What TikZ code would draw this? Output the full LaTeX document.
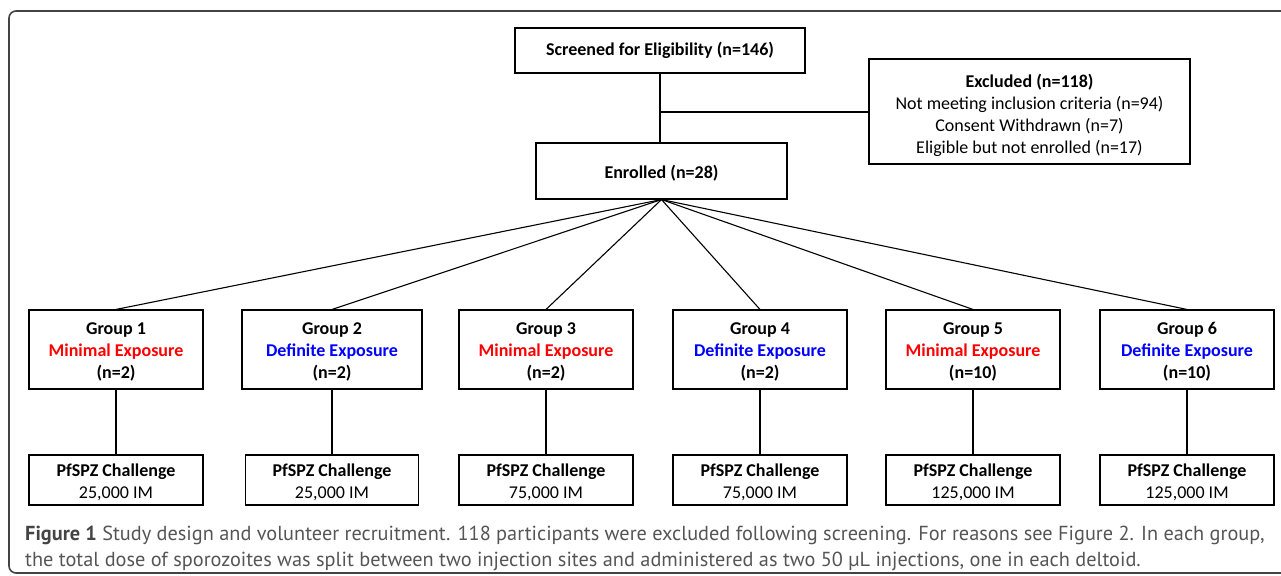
\documentclass[tikz,border=0pt]{standalone}
\usepackage{fontspec}
\setmainfont{Carlito}
\newfontfamily\capfont{PT Sans}
\definecolor{capgrey}{HTML}{555555}
\definecolor{framegrey}{HTML}{444444}
\definecolor{minred}{HTML}{FF0000}
\definecolor{defblue}{HTML}{0000FF}
\newcommand\tstrut[1]{\rule{0pt}{#1}}
\begin{document}
\begin{tikzpicture}[x=1pt,y=-1pt,
  box/.style={draw, line width=1.1pt, inner sep=0pt, align=center,
    font=\fontsize{18}{22}\selectfont},
  conn/.style={line width=1.1pt},
  captext/.style={anchor=base west, inner sep=0pt, text=capgrey,
    font=\capfont\fontsize{20.3}{24}\selectfont}]
\useasboundingbox (0,0) rectangle (1281,575);
\clip (0,0) rectangle (1281,575);
\draw[framegrey, line width=1.6pt, rounded corners=7pt] (9,11) rectangle (1310,573);

\node[box, minimum width=290pt, minimum height=45pt] (scr) at (660,50.5) {\bfseries Screened for Eligibility (n=146)};
\node[box, minimum width=321pt, minimum height=105pt] (exc) at (1029.5,111.5)
  {\tstrut{21.3pt}\bfseries Excluded (n=118)\\Not meeting inclusion criteria (n=94)\\Consent Withdrawn (n=7)\\Eligible but not enrolled (n=17)};
\node[box, minimum width=251pt, minimum height=56pt] (enr) at (661.5,171) {\tstrut{17.3pt}\bfseries Enrolled (n=28)};

\tikzset{grp/.style={box, minimum width=174pt, minimum height=79pt, font=\fontsize{18}{22}\selectfont\bfseries},
  chl/.style={box, minimum width=174pt, minimum height=50pt}}
\node[grp] (g1) at (116,349.5) {\tstrut{17.7pt}Group 1\\\textcolor{minred}{Minimal Exposure}\\(n=2)};
\node[grp, minimum width=180pt] (g2) at (332,349.5) {\tstrut{17.7pt}Group 2\\\textcolor{defblue}{Definite Exposure}\\(n=2)};
\node[grp] (g3) at (546,349.5) {\tstrut{17.7pt}Group 3\\\textcolor{minred}{Minimal Exposure}\\(n=2)};
\node[grp] (g4) at (760,349.5) {\tstrut{17.7pt}Group 4\\\textcolor{defblue}{Definite Exposure}\\(n=2)};
\node[grp] (g5) at (973,349.5) {\tstrut{17.7pt}Group 5\\\textcolor{minred}{Minimal Exposure}\\(n=10)};
\node[grp] (g6) at (1187,349.5) {\tstrut{17.7pt}Group 6\\\textcolor{defblue}{Definite Exposure}\\(n=10)};

\node[chl] (c1) at (116,480) {\tstrut{16.6pt}\textbf{PfSPZ Challenge}\\25,000 IM};
\node[chl, minimum width=173pt] (c2) at (332,480) {\tstrut{16.6pt}\textbf{PfSPZ Challenge}\\25,000 IM};
\node[chl] (c3) at (546,480) {\tstrut{16.6pt}\textbf{PfSPZ Challenge}\\75,000 IM};
\node[chl] (c4) at (760,480) {\tstrut{16.6pt}\textbf{PfSPZ Challenge}\\75,000 IM};
\node[chl] (c5) at (973,480) {\tstrut{16.6pt}\textbf{PfSPZ Challenge}\\125,000 IM};
\node[chl] (c6) at (1187,480) {\tstrut{16.6pt}\textbf{PfSPZ Challenge}\\125,000 IM};

\coordinate (jn) at (660,112);
\draw[conn] (scr.south) -- (enr.north -| scr.south);
\draw[conn] (jn) -- (exc.west |- jn);
\foreach \i in {1,...,6}{
  \draw[conn] (enr.south) -- (g\i.north);
  \draw[conn] (g\i.south) -- (c\i.north);
}

\node[captext] (cap1) at (25,540) {\textbf{\color{framegrey}Figure 1} Study design and volunteer recruitment. 118 participants were excluded following screening. For reasons see Figure 2. In each group,};
\node[captext] (cap2) at (25,566) {the total dose of sporozoites was split between two injection sites and administered as two 50 µL injections, one in each deltoid.};
\end{tikzpicture}
\end{document}
